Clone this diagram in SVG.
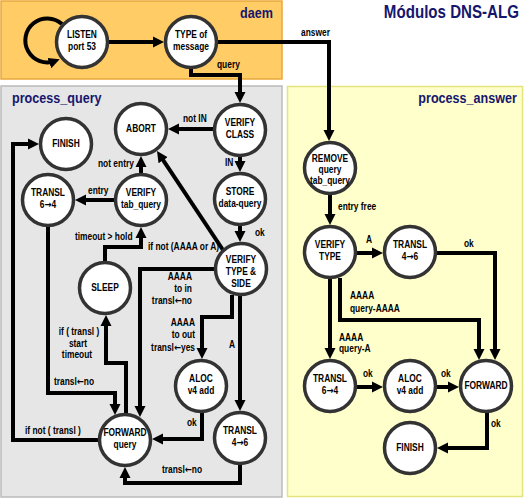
<svg xmlns="http://www.w3.org/2000/svg" width="525" height="499" viewBox="0 0 525 499">
<defs>
<style>
.t{font-family:"Liberation Sans",Arial,sans-serif;font-weight:bold;font-size:10px;fill:#000}
.m{text-anchor:middle}
.e{text-anchor:end}
.a{font-family:"DejaVu Sans",sans-serif;font-weight:bold}
.h{font-family:"Liberation Sans",Arial,sans-serif;font-weight:bold;fill:#16166e}
.n circle{fill:#fff;stroke:#333;stroke-width:3.5}
.c path{fill:none;stroke:#000;stroke-width:4;marker-end:url(#ah)}
</style>
<marker id="ah" markerUnits="userSpaceOnUse" markerWidth="12" markerHeight="12" viewBox="0 0 12 12" refX="6" refY="6" orient="auto"><path d="M0,0.5 L11,6 L0,11.5 z" fill="#000"/></marker>
</defs>
<g id="panels">
<rect x="1" y="1" width="281" height="78" fill="#FFCC66" stroke="#EBA83A" stroke-width="1.5"/>
<rect x="1" y="86" width="281" height="411" fill="#E6E6E6" stroke="#BBBBBB" stroke-width="1.5"/>
<rect x="287.5" y="86.5" width="235" height="410" fill="#FFFFCC" stroke="#E4E47E" stroke-width="1.5"/>
<g transform="scale(0.84 1)">
<text class="h" x="617.86" y="18" font-size="18" text-anchor="end">Módulos DNS-ALG</text>
<text class="h" x="325" y="18" font-size="15" text-anchor="end">daem</text>
<text class="h" x="14.29" y="103" font-size="15">process_query</text>
<text class="h" x="615.48" y="103" font-size="15" text-anchor="end">process_answer</text>
</g>
</g>
<g id="connectors" class="c">
<path d="M62,24 A22,22 0 1 0 55,61"/>
<path d="M109,42 H159"/>
<path d="M218,42 H329 V136"/>
<path d="M191,69 V75 H240 V98"/>
<path d="M213,129 H173"/>
<path d="M240,157 V167"/>
<path d="M240,226 V237"/>
<path d="M225,253 L159.8,155.2"/>
<path d="M141,173 V161"/>
<path d="M114,200 H80"/>
<path d="M105,261 V247 H141 V232"/>
<path d="M98,440 H13 V144 H34"/>
<path d="M48,227 V393 H115 V410"/>
<path d="M214,269 H140 V412"/>
<path d="M126,413 V363 H106 V320"/>
<path d="M232,295 V317 H202 V354"/>
<path d="M240,296 V406"/>
<path d="M202,413 V439 H157"/>
<path d="M240,465 V483 H125 V472"/>
<path d="M330,195 V220"/>
<path d="M357,253 H378"/>
<path d="M437,253 H495 V355"/>
<path d="M340,278 V320 H479 V355"/>
<path d="M330,279 V354"/>
<path d="M356,387 H378"/>
<path d="M437,387 H454"/>
<path d="M487,413 V448 H442"/>
</g>
<g id="labels" class="t" transform="scale(0.84 1)">
<text x="358.33" y="36">answer</text>
<text x="258.33" y="68">query</text>
<text x="217.86" y="122">not  IN</text>
<text x="267.86" y="166">IN</text>
<text x="303.57" y="236">ok</text>
<text x="116.67" y="167">not entry</text>
<text x="104.76" y="194">entry</text>
<text x="89.29" y="240">timeout &gt; hold</text>
<text x="176.19" y="250">if not (AAAA or A)</text>
<text class="e" x="228.57" y="280">AAAA</text>
<text class="e" x="228.57" y="292">to in</text>
<text class="e" x="228.57" y="304">transl<tspan class="a">←</tspan>no</text>
<text class="e" x="232.14" y="326">AAAA</text>
<text class="e" x="232.14" y="338">to out</text>
<text class="e" x="232.14" y="351">transl<tspan class="a">←</tspan>yes</text>
<text x="272.62" y="348">A</text>
<text class="m" x="94.05" y="335">if  ( transl )</text>
<text class="m" x="92.86" y="347">start</text>
<text class="m" x="91.67" y="358">timeout</text>
<text x="64.29" y="385">transl<tspan class="a">←</tspan>no</text>
<text x="29.76" y="434">if not ( transl )</text>
<text x="222.62" y="426">ok</text>
<text x="192.86" y="473">transl<tspan class="a">←</tspan>no</text>
<text x="402.38" y="210">entry free</text>
<text x="435.71" y="243">A</text>
<text x="552.38" y="247">ok</text>
<text x="416.67" y="299">AAAA</text>
<text x="416.67" y="312">query-AAAA</text>
<text x="403.57" y="341">AAAA</text>
<text x="403.57" y="352">query-A</text>
<text x="432.14" y="377">ok</text>
<text x="525" y="377">ok</text>
<text x="584.52" y="427">ok</text>
</g>
<g id="n-listen" class="n"><circle cx="82" cy="42" r="25.5"/><g class="t m" transform="scale(0.84 1)"><text x="97.62" y="38">LISTEN</text><text x="97.62" y="50">port 53</text></g></g>
<g id="n-type" class="n"><circle cx="191" cy="42" r="25.5"/><g class="t m" transform="scale(0.84 1)"><text x="227.38" y="38">TYPE of</text><text x="227.38" y="50">message</text></g></g>
<g id="n-vclass" class="n"><circle cx="240" cy="130" r="25.5"/><g class="t m" transform="scale(0.84 1)"><text x="285.71" y="126">VERIFY</text><text x="285.71" y="138">CLASS</text></g></g>
<g id="n-abort" class="n"><circle cx="141" cy="129" r="25.5"/><g class="t m" transform="scale(0.84 1)"><text x="167.86" y="132.5">ABORT</text></g></g>
<g id="n-finish-q" class="n"><circle cx="66" cy="144" r="25.5"/><g class="t m" transform="scale(0.84 1)"><text x="78.57" y="147.5">FINISH</text></g></g>
<g id="n-store" class="n"><circle cx="240" cy="199" r="25.5"/><g class="t m" transform="scale(0.84 1)"><text x="285.71" y="195">STORE</text><text x="285.71" y="207">data-query</text></g></g>
<g id="n-vtab" class="n"><circle cx="141" cy="200" r="25.5"/><g class="t m" transform="scale(0.84 1)"><text x="167.86" y="196">VERIFY</text><text x="167.86" y="208">tab_query</text></g></g>
<g id="n-transl64-q" class="n"><circle cx="48" cy="200" r="25.5"/><g class="t m" transform="scale(0.84 1)"><text x="57.14" y="196">TRANSL</text><text x="57.14" y="208">6<tspan class="a">→</tspan>4</text></g></g>
<g id="n-vts" class="n"><circle cx="241" cy="269" r="25.5"/><g class="t m" transform="scale(0.84 1)"><text x="286.9" y="263">VERIFY</text><text x="286.9" y="275">TYPE &amp;</text><text x="286.9" y="287">SIDE</text></g></g>
<g id="n-sleep" class="n"><circle cx="105" cy="288" r="25.5"/><g class="t m" transform="scale(0.84 1)"><text x="125" y="291.5">SLEEP</text></g></g>
<g id="n-aloc-q" class="n"><circle cx="201" cy="386" r="25.5"/><g class="t m" transform="scale(0.84 1)"><text x="239.29" y="382">ALOC</text><text x="239.29" y="394">v4 add</text></g></g>
<g id="n-forward-q" class="n"><circle cx="125" cy="440" r="25.5"/><g class="t m" transform="scale(0.84 1)"><text x="148.81" y="436">FORWARD</text><text x="148.81" y="448">query</text></g></g>
<g id="n-transl46-q" class="n"><circle cx="240" cy="438" r="25.5"/><g class="t m" transform="scale(0.84 1)"><text x="285.71" y="434">TRANSL</text><text x="285.71" y="446">4<tspan class="a">→</tspan>6</text></g></g>
<g id="n-remove" class="n"><circle cx="330" cy="168" r="25.5"/><g class="t m" transform="scale(0.84 1)"><text x="392.86" y="162">REMOVE</text><text x="392.86" y="173">query</text><text x="392.86" y="184">tab_query</text></g></g>
<g id="n-vtype" class="n"><circle cx="330" cy="252" r="25.5"/><g class="t m" transform="scale(0.84 1)"><text x="392.86" y="248">VERIFY</text><text x="392.86" y="260">TYPE</text></g></g>
<g id="n-transl46-a" class="n"><circle cx="410" cy="252" r="25.5"/><g class="t m" transform="scale(0.84 1)"><text x="488.1" y="248">TRANSL</text><text x="488.1" y="260">4<tspan class="a">→</tspan>6</text></g></g>
<g id="n-transl64-a" class="n"><circle cx="330" cy="386" r="25.5"/><g class="t m" transform="scale(0.84 1)"><text x="392.86" y="382">TRANSL</text><text x="392.86" y="394">6<tspan class="a">→</tspan>4</text></g></g>
<g id="n-aloc-a" class="n"><circle cx="410" cy="386" r="25.5"/><g class="t m" transform="scale(0.84 1)"><text x="488.1" y="382">ALOC</text><text x="488.1" y="394">v4 add</text></g></g>
<g id="n-forward-a" class="n"><circle cx="486" cy="386" r="25.5"/><g class="t m" transform="scale(0.84 1)"><text x="578.57" y="389.5">FORWARD</text></g></g>
<g id="n-finish-a" class="n"><circle cx="410" cy="448" r="25.5"/><g class="t m" transform="scale(0.84 1)"><text x="488.1" y="451.5">FINISH</text></g></g>
</svg>
